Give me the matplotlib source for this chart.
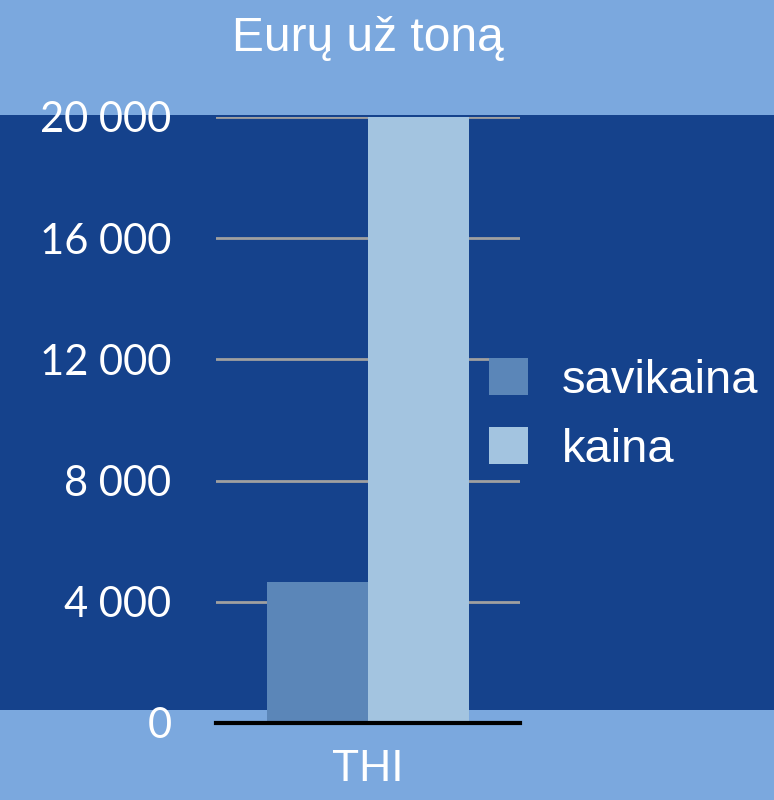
import matplotlib
matplotlib.use("Agg")
import matplotlib.pyplot as plt
from matplotlib.patches import Rectangle, Patch
from matplotlib.ticker import FuncFormatter

# data
category = "THI"
series_names = ["savikaina", "kaina"]
series_values = [4650, 20000]
series_colors = ["#5B86B8", "#A3C4E0"]
y_ticks = [0, 4000, 8000, 12000, 16000, 20000]

light_bg = "#7BA8DE"
dark_bg = "#15428C"

fig = plt.figure(figsize=(7.74, 8), dpi=100)
fig.patch.set_facecolor(light_bg)
# dark band behind the plot area
fig.patches.append(Rectangle((0, 0.1125), 1, 0.74375, transform=fig.transFigure,
                             facecolor=dark_bg, edgecolor="none", zorder=-1))

ax = fig.add_axes([216 / 774, 77 / 800, 304 / 774, 606 / 800])
ax.set_facecolor("none")
ax.set_zorder(1)

width = 0.5
offsets = [-0.25, 0.25]
for name, val, col, off in zip(series_names, series_values, series_colors, offsets):
    ax.bar(off, val, width=width, color=col, label=name, zorder=3)

ax.set_xlim(-0.75, 0.75)
ax.set_ylim(0, 20000)
ax.set_yticks(y_ticks)
ax.yaxis.set_major_formatter(FuncFormatter(lambda v, p: f"{int(v):,}".replace(",", " ")))
ax.set_xticks([0])
ax.set_xticklabels([category])

ax.grid(axis="y", color="#A0A0A0", linewidth=2, zorder=1)
ax.set_axisbelow(True)
for s in ["top", "left", "right"]:
    ax.spines[s].set_visible(False)
ax.spines["bottom"].set_color("black")
ax.spines["bottom"].set_linewidth(3)
ax.spines["bottom"].set_zorder(4)

ax.tick_params(axis="both", length=0, colors="white")
ax.tick_params(axis="y", pad=32)
ax.tick_params(axis="x", pad=19)
for lbl in ax.get_yticklabels():
    lbl.set_fontfamily("Lato")
    lbl.set_fontsize(30)
for lbl in ax.get_xticklabels():
    lbl.set_fontfamily("Liberation Sans")
    lbl.set_fontsize(32)

fig.text(368 / 774, 1 - 51 / 800, "Eurų už toną", ha="center", va="baseline",
         color="white", fontsize=34.5, family="Liberation Sans")

handles = [Patch(facecolor=c, edgecolor="none") for c in series_colors]
fig.legend(handles, series_names, loc="center left",
           bbox_to_anchor=(489 / 774, 1 - 415 / 800), frameon=False,
           prop={"family": "Liberation Sans", "size": 34}, labelcolor="white",
           handlelength=0.82, handleheight=0.82, handletextpad=0.72,
           labelspacing=0.5, borderpad=0, borderaxespad=0)

fig.savefig("out.png", dpi=100, facecolor=fig.get_facecolor())
